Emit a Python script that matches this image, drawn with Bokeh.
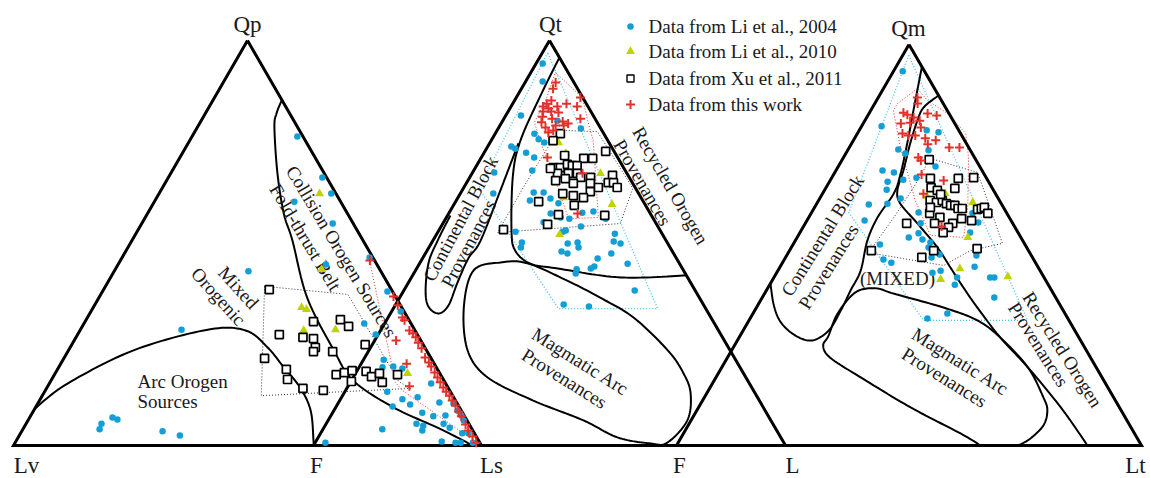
import numpy as np
from bokeh.plotting import figure
from bokeh.models import Range1d
from bokeh.embed import file_html
from bokeh.resources import INLINE
from bokeh.core.properties import value

# ---------------------------------------------------------------------------
# DATA  (ternary percentages: Q = top pole, R = right pole, left pole = 100-Q-R)
# Triangle 1: Qp (top) - Lv (left) - Ls (right)
T1_LI04_Q = [76.3,66.2,62.2,60.2,54.8,43.0,28.6,4.0,5.4,6.9,6.4,3.5,2.5,44.7,46.4,38.0,33.1,30.1,29.1,27.4,24.9,21.2,19.3,19.5,19.0,13.3,11.4,10.1,11.9,15.3,10.6,7.4,8.1,5.4,4.9,3.7,7.2,5.4,4.4,7.4,6.2,9.6,4.0,0.7,1.0,0.7,0.7,3.0,0.7,10.4,3.0,8.6]
T1_LI04_R = [22.5,32.9,36.8,29.9,40.8,28.7,21.6,16.4,16.1,17.7,19.0,30.1,34.3,44.4,52.9,60.9,66.2,59.9,56.8,63.7,62.7,68.5,69.2,71.4,73.6,73.2,77.4,79.7,80.4,81.6,85.7,88.6,83.3,83.4,85.1,85.5,86.1,89.2,91.0,92.0,93.1,76.2,76.8,66.3,91.0,94.1,95.2,94.4,97.8,88.8,95.7,90.6]
T1_LI10_Q = [62.2,43.5,34.1,33.6,28.4,28.6,17.8]
T1_LI10_R = [34.3,44.1,44.5,45.8,47.8,54.5,75.3]
T1_XU11_Q = [38.5,27.4,21.5,18.8,16.3,14.1,13.6,30.6,26.7,26.4,24.2,23.2,23.2,31.1,29.4,24.9,17.5,18.0,18.5,15.8,18.3,17.0,17.8,15.6,17.5]
T1_XU11_R = [35.4,43.1,42.9,48.9,50.4,54.8,59.4,48.8,48.5,50.9,52.4,52.5,56.6,54.3,56.9,62.7,60.2,61.7,63.1,64.3,66.2,68.0,69.3,71.0,73.3]
T1_THIS_Q = [45.7,36.8,34.6,31.6,30.9,28.4,27.7,26.7,25.4,24.0,21.7,20.5,19.5,18.0,16.8,15.6,14.3,13.3,12.3,11.1,9.9,8.4,7.2,5.2,3.7,2.2,0.7,25.9,20.2,14.6]
T1_THIS_R = [53.3,62.8,64.8,67.3,68.1,70.4,71.5,72.6,73.8,75.2,77.1,78.5,79.5,81.0,82.2,83.4,84.7,85.8,87.0,88.2,89.5,90.9,92.1,94.0,95.3,97.0,98.5,68.8,73.9,77.3]
T1_THIS_FIELD_Q = [46.9,15.6,13.6,0.3,47.5]
T1_THIS_FIELD_R = [52.4,73.8,76.3,99.3,52.3]
T1_XU11_FIELD_Q = [39.3,37.3,15.8,14.1,12.3]
T1_XU11_FIELD_R = [34.0,52.8,74.4,77.8,46.8]
T1_COLLISION_Q = [85.2,82.0,78.5,67.2,57.3,50.6,36.5,23.5,16.0,9.4,4.4,0.7,0.0]
T1_COLLISION_R = [14.7,15.2,16.5,22.8,29.1,34.3,44.5,56.7,64.6,76.5,88.4,96.6,97.6]
T1_ARC_Q = [9.1,15.3,23.5,28.6,28.4,24.2,19.3,14.3,8.6,1.2,0.0]
T1_ARC_R = [0.0,3.9,13.9,27.2,35.4,42.2,48.1,54.1,59.2,63.5,64.1]

# Triangle 2: Qt (top) - F (left) - L (right)
T2_LI04_Q = [94.3,89.9,81.5,77.0,75.6,74.8,80.2,78.3,73.8,73.3,72.3,71.1,67.4,67.9,62.2,62.5,62.5,60.5,61.0,59.8,57.3,56.3,56.0,57.5,57.8,56.0,55.1,54.1,52.8,53.1,52.8,50.1,48.9,49.9,50.1,48.9,47.9,47.4,52.3,50.4,49.9,47.4,46.2,44.2,43.7,43.5,42.5,44.9,38.3,34.8,34.3]
T2_LI04_R = [1.4,3.6,3.2,8.3,9.9,11.5,11.6,17.5,5.0,6.1,8.9,11.2,4.6,12.4,7.0,15.4,17.5,15.6,19.7,22.0,21.6,24.2,26.2,28.2,30.4,33.9,21.2,29.6,26.4,26.9,16.4,19.1,19.5,28.9,30.9,31.7,28.6,30.1,37.7,38.4,40.1,39.4,37.1,37.4,36.9,34.0,34.3,44.1,48.9,35.6,41.2]
T2_LI10_Q = [74.8,72.1,67.2,59.5,61.2,52.1]
T2_LI10_R = [14.5,17.4,27.2,33.5,22.4,26.1]
T2_XU11_Q = [77.0,75.3,71.6,70.9,70.9,72.6,68.6,68.6,69.4,69.1,69.1,67.2,67.2,67.2,66.2,66.2,66.7,64.9,64.9,63.7,63.7,64.7,62.7,64.7,62.2,61.7,61.2,59.3,60.2,57.0,56.8,54.6,53.3,65.9,65.4,68.4]
T2_XU11_R = [13.8,13.1,17.4,21.8,23.7,25.6,16.5,18.0,19.1,20.3,21.3,18.1,20.4,22.3,23.5,25.6,30.0,30.0,31.1,32.5,28.5,26.3,27.3,22.7,21.7,24.2,26.6,25.6,17.6,23.4,33.3,22.3,13.6,20.4,18.6,16.0]
T2_THIS_Q = [89.6,88.1,85.9,85.2,84.4,83.7,83.2,83.7,84.4,83.7,82.5,82.5,82.2,81.2,80.7,80.0,80.7,78.5,79.0,79.0,79.5,77.8,77.3,71.1,67.2,57.3,79.8]
T2_THIS_R = [6.5,6.7,13.6,7.8,7.2,6.8,8.2,9.8,11.4,14.0,7.4,9.1,10.8,7.9,10.2,12.8,16.2,9.9,11.8,13.5,14.2,11.9,11.1,14.0,23.4,27.3,8.4]
T2_THIS_FIELD_Q = [92.1,85.9,80.2,75.3,56.3,56.0,67.2,73.6,79.8,85.2]
T2_THIS_FIELD_R = [5.2,14.0,18.0,21.6,32.2,26.0,17.2,11.7,6.9,6.6]
T2_XU11_FIELD_Q = [77.8,77.5,63.5,54.8,52.6,63.7,75.3]
T2_XU11_FIELD_R = [13.9,21.4,35.9,37.6,12.7,12.6,12.9]
T2_LI04_FIELD_Q = [97.0,63.5,33.8,33.8]
T2_LI04_FIELD_R = [1.1,3.3,35.0,56.0]
T2_DIVIDE_Q = [95.8,86.4,75.3,66.7,53.1,48.1,44.9,43.7,41.5,42.0]
T2_DIVIDE_R = [4.2,4.9,6.2,8.9,15.4,18.7,23.5,29.9,44.3,57.8]
T2_BLOCK_Q = [74.6,63.0,50.6,46.2,40.2,34.6,32.6,34.3,38.3,45.2,50.6,56.8]
T2_BLOCK_R = [6.1,8.1,10.1,9.7,10.4,11.3,10.2,7.2,4.6,1.8,1.0,0.6]
T2_ARC_Q = [45.2,43.2,34.1,23.5,16.8,11.1,6.2,2.0,0.5,0.7,6.2,12.8,17.8,23.5,31.6,36.5,40.7,45.0]
T2_ARC_R = [17.0,12.3,14.8,20.9,28.5,41.0,54.1,63.4,71.2,74.6,76.1,73.5,69.5,63.3,52.0,42.5,33.4,22.8]

# Triangle 3: Qm (top) - F (left) - Lt (right)
T3_LI04_Q = [93.3,79.6,78.6,78.1,73.8,72.8,73.6,69.6,68.6,68.1,63.8,65.8,66.3,66.8,60.1,60.3,61.6,58.1,56.1,55.4,51.9,52.9,51.4,50.6,49.4,50.1,46.4,45.6,46.9,47.6,43.6,43.1,41.9,40.1,47.4,53.1,44.6,41.9,41.9,36.9,32.9,31.7,57.9,55.6]
T3_LI04_R = [2.0,4.3,14.5,17.3,10.8,12.8,17.4,20.9,10.0,12.7,13.3,12.5,15.6,18.2,11.3,15.2,17.4,23.0,12.4,24.8,24.0,25.6,27.2,29.3,29.5,18.7,21.3,23.4,31.4,32.8,35.0,33.5,39.4,39.8,40.8,36.6,41.8,46.5,47.4,49.9,41.8,38.1,34.7,37.1]
T3_LI10_Q = [62.8,60.6,62.1,51.9,44.1,41.4,42.1]
T3_LI10_R = [26.4,33.4,22.8,36.7,38.9,36.1,50.2]
T3_XU11_Q = [71.3,66.6,64.3,66.6,66.8,64.1,63.6,61.1,60.6,61.1,60.3,59.9,59.9,59.1,59.1,58.9,59.1,59.4,57.9,57.9,56.9,56.6,56.1,55.4,54.4,53.1,55.4,55.4,48.6,46.9,48.6,49.1,59.4,62.6]
T3_XU11_R = [18.7,21.3,22.6,27.3,30.5,27.8,24.3,24.0,25.6,26.6,27.9,29.0,29.9,31.0,31.9,35.3,36.0,36.5,38.0,25.5,28.2,33.0,35.4,31.7,31.3,30.8,27.8,21.8,31.0,29.3,17.6,40.1,24.9,25.5]
T3_THIS_Q = [86.8,85.3,83.0,82.5,82.8,82.3,80.3,80.5,81.8,81.0,79.3,77.8,77.3,77.3,76.6,76.1,75.1,74.3,74.3,71.8,71.1,67.6,66.1,62.8,54.6]
T3_THIS_R = [8.4,9.2,7.3,8.4,12.6,14.8,8.1,10.0,10.1,11.8,12.9,9.7,11.2,12.7,15.2,17.7,16.5,21.5,23.7,16.1,17.0,18.9,24.4,21.7,29.7]
T3_THIS_FIELD_Q = [89.0,85.3,83.5,74.3,61.1,52.4,51.9,59.9,71.8,77.8,82.8,86.0]
T3_THIS_FIELD_R = [7.3,4.9,4.9,11.0,20.8,28.4,35.8,32.7,26.9,23.3,16.9,11.0]
T3_XU11_FIELD_Q = [71.6,68.1,50.4,48.6,44.9,46.6,48.1,56.9,64.3]
T3_XU11_FIELD_R = [18.8,30.7,44.9,38.9,35.0,25.5,17.3,18.3,18.8]
T3_LI04_FIELD_Q = [97.3,58.1,31.2,31.2]
T3_LI04_FIELD_R = [1.3,8.0,37.5,59.9]
T3_BLOCK_Q = [94.3,83.5,76.1,67.8,62.8,56.9,51.1,43.6,38.7,33.7,28.7,26.2,27.4,30.7,34.9,40.4]
T3_BLOCK_R = [5.6,9.2,11.7,14.3,15.3,14.8,15.5,17.8,18.1,18.5,18.4,16.1,11.9,7.1,3.5,0.0]
T3_RECYCLED_Q = [87.3,84.3,81.0,75.3,68.6,63.6,60.3,55.4,49.4,44.4,39.4,34.4,26.9,19.5,9.5,0.0]
T3_RECYCLED_R = [12.7,11.0,11.3,12.6,14.5,15.7,18.0,24.1,31.4,36.7,42.0,47.5,56.2,65.8,77.9,88.4]
T3_ARC_Q = [0.0,3.0,9.5,17.0,21.9,24.9,27.4,32.9,38.2,39.2,37.9,34.4,31.2,26.9,19.5,12.0,8.7,5.0,1.7,0.0]
T3_ARC_R = [65.4,59.6,45.6,31.1,22.1,19.1,19.0,18.2,19.4,23.2,27.7,40.2,49.1,56.2,65.8,72.9,75.4,76.4,75.2,73.5]

LEGEND_LABELS = ["Data from Li et al., 2004", "Data from Li et al., 2010",
                 "Data from Xu et al., 2011", "Data from this work"]
POLE_LABELS = ["Qp", "Lv", "Ls", "Qt", "F", "L", "Qm", "F", "Lt"]

# ---------------------------------------------------------------------------
# layout
W, H = 1150, 478
CORNERS = {  # (top, left, right) in page pixels (y downward)
    1: ((247.0, 40.0), (13.0, 445.0), (481.0, 445.0)),
    2: ((549.0, 40.0), (313.0, 445.0), (785.0, 445.0)),
    3: ((908.5, 44.0), (676.0, 445.0), (1141.0, 445.0)),
}
BLUE = "#139fd6"
YEL = "#bfd300"
RED = "#e4302b"
LBLUE = "#4cc0e8"
FONT = value("Liberation Serif")


def tern(tri, q, r):
    (ax, ay), (bx, by), (cx, cy) = CORNERS[tri]
    q = np.asarray(q, float) / 100.0
    r = np.asarray(r, float) / 100.0
    l = 1.0 - q - r
    x = q * ax + l * bx + r * cx
    py = q * ay + l * by + r * cy
    return x, H - py


def smooth(x, y, closed=False, n=14):
    pts = np.column_stack([x, y])
    if closed:
        P = np.vstack([pts[-1], pts, pts[0], pts[1]])
    else:
        P = np.vstack([pts[0], pts, pts[-1]])
    out = []
    for i in range(1, len(P) - 2):
        p0, p1, p2, p3 = P[i - 1], P[i], P[i + 1], P[i + 2]
        for t in np.linspace(0, 1, n, endpoint=False):
            t2, t3 = t * t, t * t * t
            out.append(0.5 * ((2 * p1) + (-p0 + p2) * t
                              + (2 * p0 - 5 * p1 + 4 * p2 - p3) * t2
                              + (-p0 + 3 * p1 - 3 * p2 + p3) * t3))
    out.append(P[-2])
    out = np.array(out)
    return out[:, 0], out[:, 1]


p = figure(width=W, height=H, x_range=Range1d(0, W), y_range=Range1d(0, H),
           output_backend="svg", toolbar_location=None,
           x_axis_location=None, y_axis_location=None, min_border=0)
p.grid.visible = False
p.outline_line_color = None
p.background_fill_color = "white"
p.border_fill_color = "white"

# ---- dotted data fields
def field(tri, q, r, color, width=1.0, dash="1 2"):
    x, y = tern(tri, q, r)
    x = np.append(x, x[0]); y = np.append(y, y[0])
    p.line(x, y, line_color=color, line_width=width, line_dash=dash)

field(1, T1_XU11_FIELD_Q, T1_XU11_FIELD_R, "#333333")
field(1, T1_THIS_FIELD_Q, T1_THIS_FIELD_R, RED)
field(2, T2_LI04_FIELD_Q, T2_LI04_FIELD_R, LBLUE, 1.3)
field(2, T2_XU11_FIELD_Q, T2_XU11_FIELD_R, "#333333")
field(2, T2_THIS_FIELD_Q, T2_THIS_FIELD_R, RED)
field(3, T3_LI04_FIELD_Q, T3_LI04_FIELD_R, LBLUE, 1.3)
field(3, T3_XU11_FIELD_Q, T3_XU11_FIELD_R, "#333333")
field(3, T3_THIS_FIELD_Q, T3_THIS_FIELD_R, RED)

# ---- provenance boundaries
def boundary(tri, q, r, closed=False, width=2.0):
    x, y = tern(tri, q, r)
    sx, sy = smooth(x, y, closed=closed)
    p.line(sx, sy, line_color="black", line_width=width)

boundary(1, T1_COLLISION_Q, T1_COLLISION_R)
boundary(1, T1_ARC_Q, T1_ARC_R)
boundary(2, T2_DIVIDE_Q, T2_DIVIDE_R)
boundary(2, T2_BLOCK_Q, T2_BLOCK_R)
boundary(2, T2_ARC_Q, T2_ARC_R, closed=True)
boundary(3, T3_BLOCK_Q, T3_BLOCK_R)
boundary(3, T3_RECYCLED_Q, T3_RECYCLED_R)
boundary(3, T3_ARC_Q, T3_ARC_R)

# ---- triangle frames
for tri in (1, 2, 3):
    x, y = tern(tri, [100, 0, 0, 100], [0, 0, 100, 0])
    p.line(x, y, line_color="black", line_width=3, line_join="miter")

# ---- field labels
def label(txt, x, py, angle=0.0, size="19px", align="center", baseline="middle"):
    p.text(x=[x], y=[H - py], text=[txt], angle=angle, angle_units="deg",
           text_font=FONT, text_font_size=value(size), text_color="#1a1a1a",
           text_align=align, text_baseline=baseline)

label("Arc Orogen", 137, 381, align="left")
label("Sources", 137, 401, align="left")
label("Mixed", 238, 287, -48)
label("Orogenic", 218, 296, -48)
label("Collision Orogen Sources", 341, 251, -59)
label("Fold-thrust Belt", 305, 237, -59)
label("Continental Block", 460, 218, 62)
label("Provenances", 468, 243, 62)
label("Magmatic Arc", 580, 361, -32)
label("Provenances", 564, 378, -32)
label("Recycled Orogen", 670, 185, -60)
label("Provenances", 642, 182, -60)
label("Continental Block", 822, 235, 58)
label("Provenances", 828, 266, 58)
label("(MIXED)", 897, 278)
label("Magmatic Arc", 960, 361, -32)
label("Provenances", 944, 377, -32)
label("Recycled Orogen", 1062, 349, -57.7)
label("Provenances", 1038, 344, -57.7)

# ---- data points
def pts(tri, q, r, kind):
    x, y = tern(tri, q, r)
    if kind == "li04":
        p.scatter(x, y, marker="circle", size=6.5, fill_color=BLUE, line_color=None)
    elif kind == "li10":
        p.scatter(x, y, marker="triangle", size=9, fill_color=YEL, line_color=None)
    elif kind == "xu11":
        p.scatter(x, y, marker="square", size=8, fill_color="white",
                  line_color="black", line_width=1.7)
    else:
        p.scatter(x, y, marker="cross", size=9, line_color=RED, line_width=2)

for tri, data in ((1, (T1_LI04_Q, T1_LI04_R, T1_LI10_Q, T1_LI10_R, T1_XU11_Q, T1_XU11_R, T1_THIS_Q, T1_THIS_R)),
                  (2, (T2_LI04_Q, T2_LI04_R, T2_LI10_Q, T2_LI10_R, T2_XU11_Q, T2_XU11_R, T2_THIS_Q, T2_THIS_R)),
                  (3, (T3_LI04_Q, T3_LI04_R, T3_LI10_Q, T3_LI10_R, T3_XU11_Q, T3_XU11_R, T3_THIS_Q, T3_THIS_R))):
    pts(tri, data[0], data[1], "li04")
    pts(tri, data[2], data[3], "li10")
    pts(tri, data[4], data[5], "xu11")
    pts(tri, data[6], data[7], "this")

# ---- pole labels
pole_pos = [(247, 24), (26, 465), (491, 465), (550, 24), (316, 465), (792, 465),
            (908, 28), (679, 465), (1135, 465)]
for txt, (x, py) in zip(POLE_LABELS, pole_pos):
    label(txt, x, py, size="23px")

# ---- legend
leg_py = [26, 51, 78, 104]
p.scatter([630], [H - leg_py[0]], marker="circle", size=6.5, fill_color=BLUE, line_color=None)
p.scatter([630], [H - leg_py[1]], marker="triangle", size=9, fill_color=YEL, line_color=None)
p.scatter([630], [H - leg_py[2]], marker="square", size=7, fill_color="white", line_color="black", line_width=1.4)
p.scatter([630], [H - leg_py[3]], marker="cross", size=9, line_color=RED, line_width=2)
p.text(x=[648] * 4, y=[H - v for v in leg_py], text=LEGEND_LABELS,
       text_font=FONT, text_font_size=value("19px"), text_color="#1a1a1a",
       text_align="left", text_baseline="middle")

open("out.html", "w").write(file_html(p, INLINE))
